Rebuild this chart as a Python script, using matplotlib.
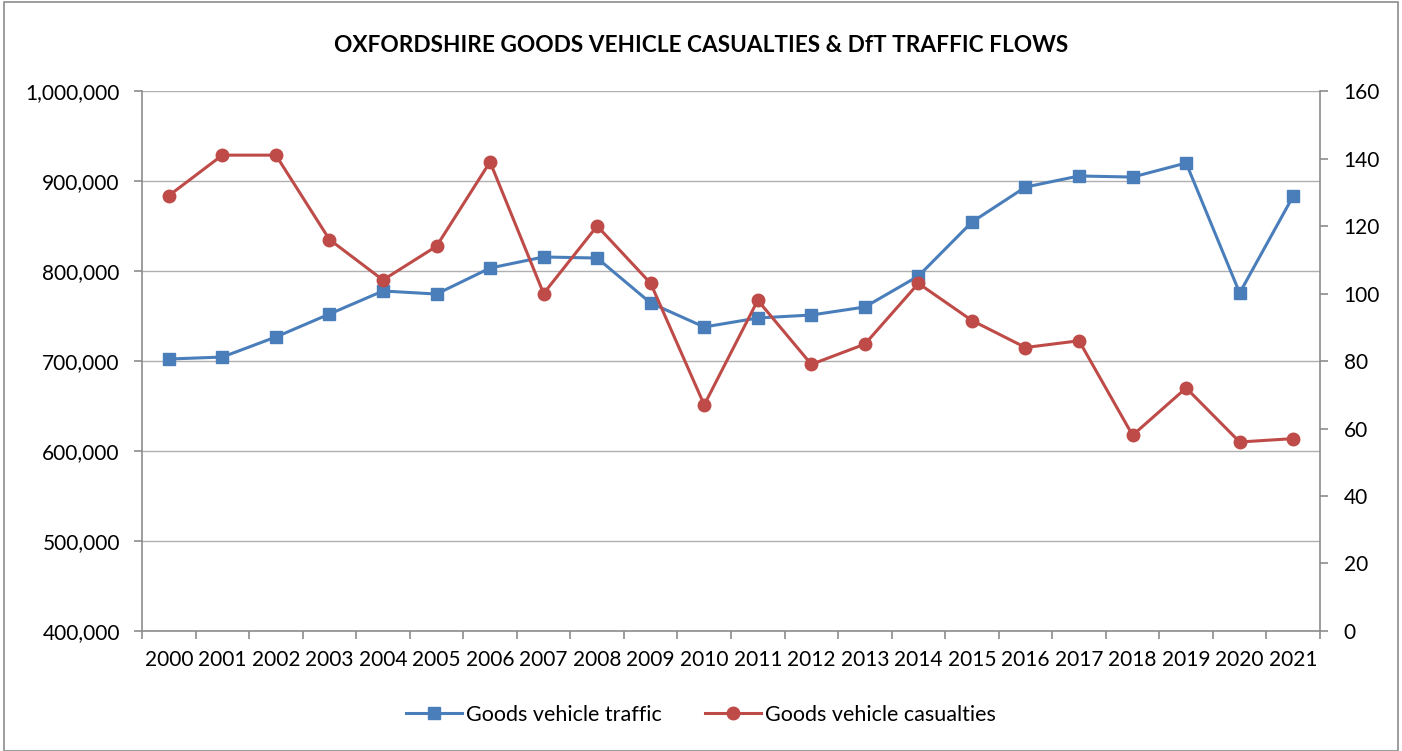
import matplotlib
matplotlib.use("Agg")
import matplotlib.pyplot as plt
from matplotlib.ticker import FuncFormatter, MultipleLocator
from matplotlib.patches import Rectangle

years = [str(y) for y in range(2000, 2022)]
traffic = [702200, 704400, 726700, 752200, 777800, 774400, 803300, 815600, 814400,
           764400, 737800, 747800, 751100, 760000, 794400, 854400, 893300, 905600,
           904400, 920000, 775600, 883300]
casualties = [129, 141, 141, 116, 104, 114, 139, 100, 120, 103, 67, 98, 79, 85,
              103, 92, 84, 86, 58, 72, 56, 57]

plt.rcParams['font.family'] = ['Lato', 'DejaVu Sans']

fig = plt.figure(figsize=(14.02, 7.51), dpi=100)
fig.patches.append(Rectangle((0.003, 0.0), 0.994, 0.997, transform=fig.transFigure,
                             fill=False, edgecolor='#8c8c8c', linewidth=1.2))
ax = fig.add_axes([0.1013, 0.1598, 0.8402, 0.7190])
ax2 = ax.twinx()

x = list(range(len(years)))
blue = '#4a7ebb'
red = '#be4b48'
l1, = ax.plot(x, traffic, color=blue, lw=2.2, marker='s', ms=8, label='Goods vehicle traffic', zorder=3)
l2, = ax2.plot(x, casualties, color=red, lw=2.2, marker='o', ms=9, label='Goods vehicle casualties', zorder=3)

ax.set_xlim(-0.5, len(years) - 0.5)
ax.set_ylim(400000, 1000000)
ax.yaxis.set_major_locator(MultipleLocator(100000))
ax.yaxis.set_major_formatter(FuncFormatter(lambda v, p: f"{int(v):,}"))
ax2.set_ylim(0, 160)
ax2.yaxis.set_major_locator(MultipleLocator(20))

ax.grid(axis='y', color='#b0b0b0', lw=1.0)
ax.set_axisbelow(True)
ax.set_xticks(x)
ax.set_xticklabels(years)
ax.set_xticks([i - 0.5 for i in range(len(years) + 1)], minor=True)
ax.tick_params(axis='x', which='major', length=0, labelsize=15, pad=14)
ax.tick_params(axis='x', which='minor', length=6, color='#8c8c8c', width=1.2)
ax.tick_params(axis='y', length=6, color='#8c8c8c', width=1.2, labelsize=15, pad=10)
ax2.tick_params(axis='y', length=6, color='#8c8c8c', width=1.2, labelsize=15, pad=11)

for a in (ax, ax2):
    for s in a.spines.values():
        s.set_visible(False)
ax.spines['left'].set_visible(True)
ax.spines['bottom'].set_visible(True)
ax2.spines['right'].set_visible(True)
for s in (ax.spines['left'], ax.spines['bottom'], ax2.spines['right']):
    s.set_color('#8c8c8c')
    s.set_linewidth(1.2)

fig.text(0.5, 0.94, 'OXFORDSHIRE GOODS VEHICLE CASUALTIES & DfT TRAFFIC FLOWS',
         ha='center', va='center', fontsize=16.3, fontweight='bold')
fig.legend(handles=[l1, l2], loc='center', bbox_to_anchor=(0.5, 0.048), ncol=2,
           frameon=False, fontsize=15.5, handlelength=2.6, columnspacing=2.0, handletextpad=0.2)

fig.savefig('out.png', dpi=100)
